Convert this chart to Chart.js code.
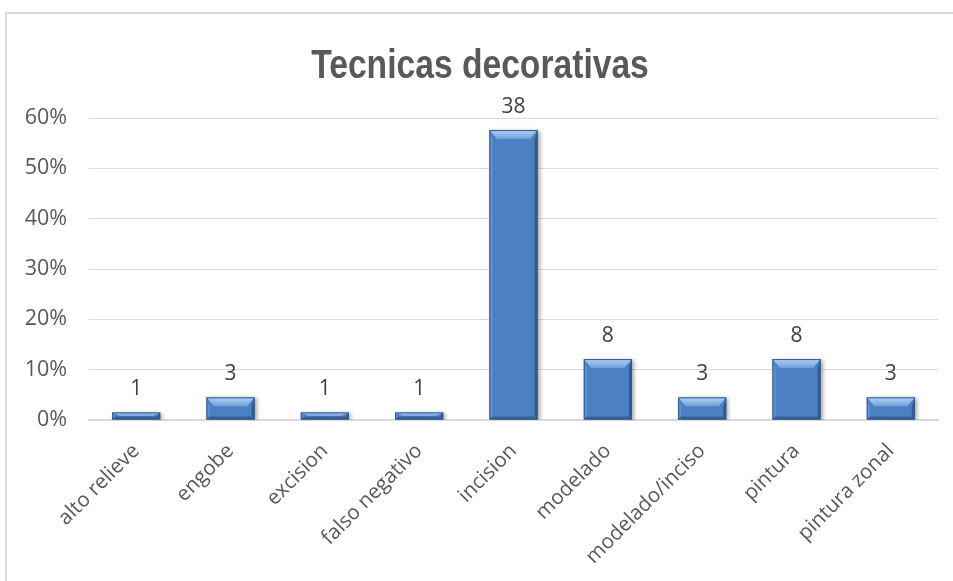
<!DOCTYPE html>
<html><head><meta charset="utf-8">
<script src="https://cdn.jsdelivr.net/npm/chart.js@4/dist/chart.umd.min.js"></script>
<style>
html,body{margin:0;padding:0;background:#fff;overflow:hidden}
#wrap{position:relative;width:953px;height:581px}
#frame{position:absolute;left:5px;top:12px;width:1000px;height:700px;border:2px solid #d9d9d9;box-sizing:border-box}
canvas{position:absolute;left:0;top:0}
</style></head><body>
<div id="wrap"><div id="frame"></div><canvas id="c" width="953" height="581"></canvas></div>
<script>
const categories = ["alto relieve","engobe","excision","falso negativo","incision","modelado","modelado/inciso","pintura","pintura zonal"];
const counts = [1,3,1,1,38,8,3,8,3];
const percents = [1.5,4.5,1.5,1.5,57.6,12.1,4.5,12.1,4.5];
const yTickValues = [0,10,20,30,40,50,60];
const titleText = "Tecnicas decorativas";

const TEXT = "#595959";
const FONT = "'Open Sans', 'Liberation Sans', sans-serif";

const titlePlugin = {
  id: 'narrowTitle',
  afterDraw(chart){
    const ctx = chart.ctx;
    ctx.save();
    ctx.font = "bold 41px 'Liberation Sans', sans-serif";
    ctx.fillStyle = TEXT;
    ctx.textAlign = 'center';
    ctx.textBaseline = 'alphabetic';
    ctx.translate(480, 78);
    ctx.scale(0.82, 1);
    ctx.fillText(titleText, 0, 0);
    ctx.restore();
  }
};

const bevelPlugin = {
  id: 'bevel',
  beforeDatasetsDraw(chart){
    const ctx = chart.ctx;
    ctx.save();
    ctx.shadowColor = 'rgba(0,0,0,0.35)';
    ctx.shadowBlur = 4;
    ctx.shadowOffsetX = 2;
    ctx.shadowOffsetY = 1;
  },
  afterDatasetsDraw(chart){
    const ctx = chart.ctx;
    ctx.restore();
    const meta = chart.getDatasetMeta(0);
    meta.data.forEach((bar, i) => {
      const p = bar.getProps(['x','y','base','width'], true);
      const l = p.x - p.width/2, r = p.x + p.width/2, t = p.y, b = p.base;
      const h = b - t;
      const bv = Math.min(9, h/2);
      const sv = Math.min(3, p.width/6);
      ctx.save();
      ctx.fillStyle = 'rgba(120,165,220,0.55)';
      ctx.beginPath(); ctx.moveTo(l,t); ctx.lineTo(l+sv,t+bv); ctx.lineTo(l+sv,b-sv); ctx.lineTo(l,b); ctx.closePath(); ctx.fill();
      ctx.fillStyle = 'rgba(30,60,110,0.55)';
      ctx.beginPath(); ctx.moveTo(r,t); ctx.lineTo(r-sv,t+bv); ctx.lineTo(r-sv,b-sv); ctx.lineTo(r,b); ctx.closePath(); ctx.fill();
      ctx.fillStyle = 'rgba(30,60,110,0.45)';
      ctx.beginPath(); ctx.moveTo(l,b); ctx.lineTo(l+sv,b-sv); ctx.lineTo(r-sv,b-sv); ctx.lineTo(r,b); ctx.closePath(); ctx.fill();
      const g = ctx.createLinearGradient(0,t,0,t+bv);
      g.addColorStop(0,'#b4d2f4');
      g.addColorStop(1,'#6e9fdb');
      ctx.fillStyle = g;
      ctx.beginPath(); ctx.moveTo(l,t); ctx.lineTo(r,t); ctx.lineTo(r-sv*2.5,t+bv); ctx.lineTo(l+sv*2.5,t+bv); ctx.closePath(); ctx.fill();
      ctx.strokeStyle = '#2f568a'; ctx.lineWidth = 1;
      ctx.strokeRect(l+0.5,t+0.5,p.width-1,h-1);
      ctx.fillStyle = '#404040';
      ctx.font = "21px " + FONT;
      ctx.textAlign = 'center';
      ctx.textBaseline = 'alphabetic';
      ctx.fillText(String(counts[i]), p.x, t - 17);
      ctx.restore();
    });
  }
};

new Chart(document.getElementById('c'), {
  type: 'bar',
  data: {
    labels: categories,
    datasets: [{
      data: percents,
      backgroundColor: '#4b80c2',
      borderWidth: 0,
      barPercentage: 0.51,
      categoryPercentage: 1.0
    }]
  },
  options: {
    responsive: false,
    animation: false,
    devicePixelRatio: 1,
    layout: { padding: { left: 0, right: 15, top: 118, bottom: 0 } },
    plugins: {
      legend: { display: false },
      tooltip: { enabled: false },
      title: { display: false }
    },
    scales: {
      x: {
        grid: { display: false, drawTicks: false },
        border: { display: true, color: '#d9d9d9', width: 2 },
        ticks: { color: TEXT, font: { family: FONT, size: 20.5 }, minRotation: 45, maxRotation: 45, padding: 19, autoSkip: false },
        afterFit(s){ s.height = 161; }
      },
      y: {
        min: 0, max: 60,
        afterBuildTicks(s){ s.ticks = yTickValues.map(v => ({ value: v })); },
        grid: { color: '#d9d9d9', lineWidth: 1, drawTicks: false },
        border: { display: false },
        ticks: { color: TEXT, font: { family: FONT, size: 21.5 }, padding: 22, callback: v => v + '%' },
        afterFit(s){ s.width = 89; }
      }
    }
  },
  plugins: [bevelPlugin, titlePlugin]
});
</script>
</body></html>
